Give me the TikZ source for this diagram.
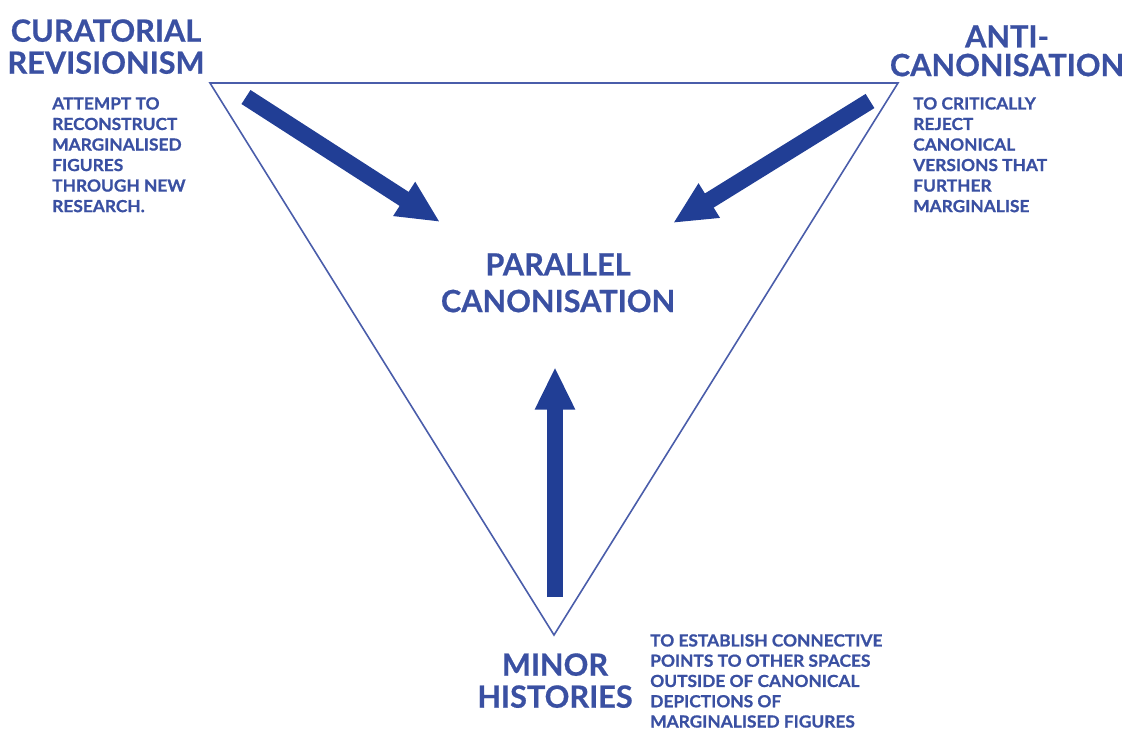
\documentclass[tikz,border=0pt]{standalone}
\usepackage{fontspec}
\setmainfont{Lato}
\newfontfamily\headface{Lato}[UprightFont=* Bold, FakeBold=0.6]
\newfontfamily\noteface{Lato}[UprightFont=* Bold, FakeBold=0.9, FakeStretch=1.04]
\usetikzlibrary{arrows.meta}

\definecolor{inkblue}{HTML}{3A50A2}
\definecolor{arrowblue}{HTML}{213E95}
\definecolor{edgeblue}{HTML}{4A5DAA}

\tikzset{
  headtext/.style={inner sep=0pt, align=center, text=inkblue,
    font=\headface\fontsize{23pt}{24pt}\selectfont},
  notetext/.style={inner sep=0pt, align=left, text=inkblue,
    font=\noteface\fontsize{12.5pt}{15.4pt}\selectfont},
  blockarrow/.style={draw=arrowblue, line width=12.5pt,
    -{Triangle[width=28pt,length=32pt,fill=arrowblue]}},
  edge/.style={draw=edgeblue, line width=1.2pt, line join=miter}
}

\begin{document}
\begin{tikzpicture}[x=0.75pt,y=-0.75pt]
\useasboundingbox (0,0) rectangle (1138,733);

% corners of the triangle
\coordinate (tl) at (210,83);
\coordinate (tr) at (898,83);
\coordinate (bt) at (554,635);
\path[edge] (tl) -- (tr) -- (bt) -- cycle;

% headings
\node[headtext, anchor=north] (curatorial) at (106,19) {CURATORIAL\\REVISIONISM};
\node[headtext, anchor=north, font=\headface\fontsize{23pt}{21.5pt}\selectfont]
  (anti) at (1007,25) {ANTI-\\CANONISATION};
\node[headtext, anchor=north, font=\headface\fontsize{23pt}{27.5pt}\selectfont]
  (parallel) at (558,253) {PARALLEL\\CANONISATION};
\node[headtext, anchor=north] (minor) at (555,653) {MINOR\\HISTORIES};

% explanatory notes
\node[notetext, anchor=north west] (curnote) at (52,97)
  {ATTEMPT TO\\RECONSTRUCT\\MARGINALISED\\FIGURES\\THROUGH NEW\\RESEARCH.};
\node[notetext, anchor=north west] (antinote) at (913,97)
  {TO CRITICALLY\\REJECT\\CANONICAL\\VERSIONS THAT\\FURTHER\\MARGINALISE};
\node[notetext, anchor=north west, font=\noteface\fontsize{12.5pt}{15.2pt}\selectfont]
  (minornote) at (650,634)
  {TO ESTABLISH CONNECTIVE\\POINTS TO OTHER SPACES\\OUTSIDE OF CANONICAL\\DEPICTIONS OF\\MARGINALISED FIGURES};

% arrows towards the centre
\coordinate (curtail) at (246,97);
\coordinate (curtip) at (440,222);
\coordinate (antitail) at (870,101);
\coordinate (antitip) at (673,223);
\coordinate (minortail) at (555,597);
\coordinate (minortip) at (555,367);
\draw[blockarrow] (curtail) -- (curtip);
\draw[blockarrow] (antitail) -- (antitip);
\draw[blockarrow] (minortail) -- (minortip);
\end{tikzpicture}
\end{document}
